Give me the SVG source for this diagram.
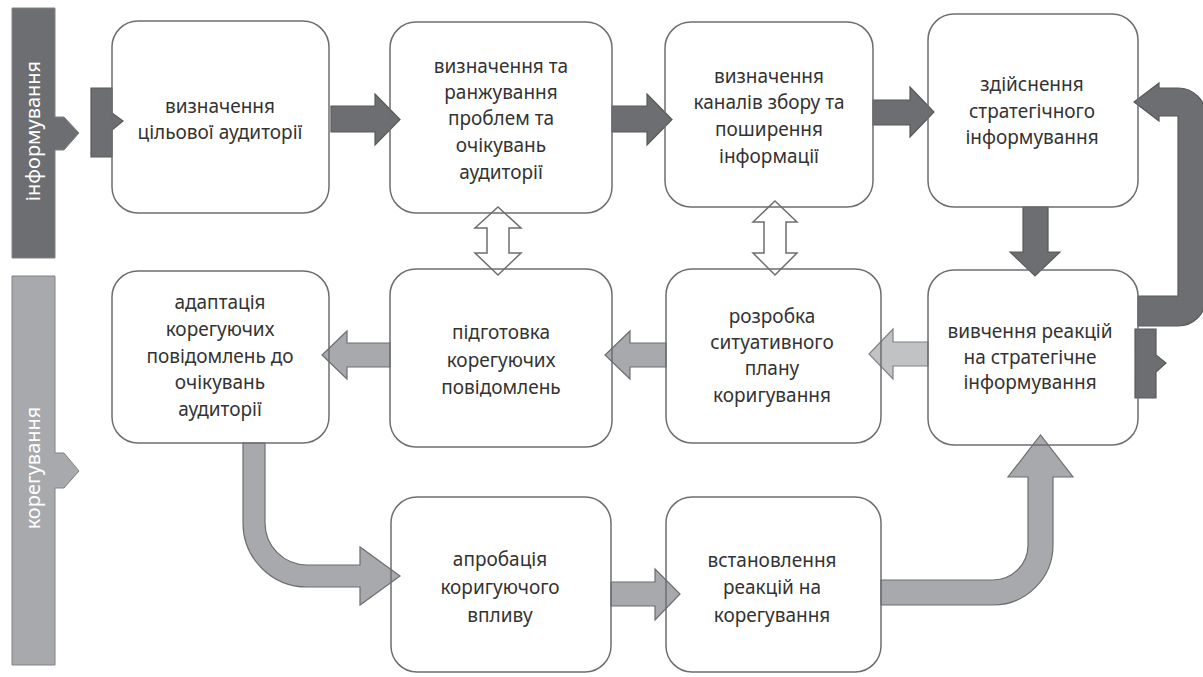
<svg xmlns="http://www.w3.org/2000/svg" width="1203" height="677" viewBox="0 0 1203 677">
<style>
.box{fill:none;stroke:#6d6e71;stroke-width:1.5}
.t{font-family:"Noto Sans","DejaVu Sans",sans-serif;font-size:19px;fill:#333333;text-anchor:middle}
.band{font-family:"Noto Sans","DejaVu Sans",sans-serif;font-size:20px;fill:#ffffff;text-anchor:middle}
.dark{fill:#6d6e71;stroke:#58595b;stroke-width:1.2}
.light{fill:#a7a9ac;stroke:#6d6e71;stroke-width:1.2}
.lighter{fill:#c1c2c4;stroke:#808285;stroke-width:1.2}
.dbl{fill:#ffffff;stroke:#6d6e71;stroke-width:1.5}
</style>
<rect width="1203" height="677" fill="#ffffff"/>
<g id="band-inform">
<path d="M12,8 H55 V117 H64 L79,133 L64,150 H55 V258 H12 Z" fill="#6d6e71" stroke="#808285" stroke-width="1"/>
<text class="band" transform="translate(40,131) rotate(-90)">інформування</text>
</g>
<g id="band-correct">
<path d="M12,276 H55 V453 H64 L79,471 L64,488 H55 V665 H12 Z" fill="#a7a9ac" stroke="#808285" stroke-width="1"/>
<text class="band" transform="translate(40,468) rotate(-90)">корегування</text>
</g>
<g id="connectors">
<path class="dark" d="M91,88 H112 V113 L123,121 L112,130 V157 H91 Z"/>
<path class="dark" d="M1135,329 H1156 V355 L1166,363 L1156,372 V398 H1135 Z"/>
<path class="dark" d="M331,106 H375 V94 L400,119.5 L375,145 V132 H331 Z"/>
<path class="dark" d="M612,106 H647 V94 L672,119.5 L647,145 V132 H612 Z"/>
<path class="dark" d="M873,100 H910 V87 L934,112 L910,137 V125 H873 Z"/>
<path class="dark" d="M1023,207 V252 H1010 L1035,276 L1060,252 H1048 V207 Z"/>
<path class="dark" d="M1138,296 H1178 V116 H1159 V121 L1134,102 L1159,83 V88 H1178 A28,28 0 0 1 1206,116 V298 A28,28 0 0 1 1178,326 H1138 Z"/>
<path class="lighter" d="M928,342 H893 V329 L869,354 L893,379 V366 H928 Z"/>
<path class="light" d="M666,343 H630 V331 L605,355 L630,379 V367 H666 Z"/>
<path class="light" d="M390,343 H347 V331 L322,355 L347,379 V367 H390 Z"/>
<path class="light" d="M243,443 V523 A64,64 0 0 0 307,587 H360 V605 L400,576 L360,547 V565 H307 A42,42 0 0 1 265,523 V443 Z"/>
<path class="light" d="M611,582 H655 V569 L680,594 L655,620 V606 H611 Z"/>
<path class="light" d="M881,580 H993 A35,35 0 0 0 1028,545 V477 H1008 L1040.5,435 L1073,477 H1053 V545 A60,60 0 0 1 993,605 H881 Z"/>
<path class="dbl" d="M498,207 L521,228 H509 V253 H521 L498,275 L475,253 H487 V228 H475 Z"/>
<path class="dbl" d="M775,201 L797,222 H786 V253 H797 L775,275 L753,253 H764 V222 H753 Z"/>
</g>
<g id="n1">
<rect class="box" x="112" y="21" width="217" height="192" rx="26"/>
<text class="t" x="220" y="113">визначення</text>
<text class="t" x="220" y="139">цільової аудиторії</text>
</g>
<g id="n2">
<rect class="box" x="390" y="22" width="222" height="191" rx="26"/>
<text class="t" x="501" y="73">визначення та</text>
<text class="t" x="501" y="99">ранжування</text>
<text class="t" x="501" y="125">проблем та</text>
<text class="t" x="501" y="152">очікувань</text>
<text class="t" x="501" y="179">аудиторії</text>
</g>
<g id="n3">
<rect class="box" x="665" y="22" width="208" height="185" rx="26"/>
<text class="t" x="769" y="83">визначення</text>
<text class="t" x="769" y="109">каналів збору та</text>
<text class="t" x="769" y="136">поширення</text>
<text class="t" x="769" y="163">інформації</text>
</g>
<g id="n4">
<rect class="box" x="928" y="14" width="210" height="193" rx="26"/>
<text class="t" x="1032" y="91">здійснення</text>
<text class="t" x="1032" y="118">стратегічного</text>
<text class="t" x="1032" y="144">інформування</text>
</g>
<g id="n5">
<rect class="box" x="112" y="271" width="217" height="172" rx="26"/>
<text class="t" x="220" y="309">адаптація</text>
<text class="t" x="220" y="336">корегуючих</text>
<text class="t" x="220" y="363">повідомлень до</text>
<text class="t" x="220" y="389">очікувань</text>
<text class="t" x="220" y="416">аудиторії</text>
</g>
<g id="n6">
<rect class="box" x="390" y="269" width="222" height="178" rx="26"/>
<text class="t" x="501" y="339">підготовка</text>
<text class="t" x="501" y="367">корегуючих</text>
<text class="t" x="501" y="394">повідомлень</text>
</g>
<g id="n7">
<rect class="box" x="666" y="269" width="215" height="174" rx="26"/>
<text class="t" x="772" y="323">розробка</text>
<text class="t" x="772" y="349">ситуативного</text>
<text class="t" x="772" y="375">плану</text>
<text class="t" x="772" y="402">коригування</text>
</g>
<g id="n8">
<rect class="box" x="928" y="270" width="210" height="175" rx="26"/>
<text class="t" x="1030" y="338">вивчення реакцій</text>
<text class="t" x="1030" y="364">на стратегічне</text>
<text class="t" x="1030" y="389">інформування</text>
</g>
<g id="n9">
<rect class="box" x="391" y="497" width="220" height="175" rx="26"/>
<text class="t" x="500" y="566">апробація</text>
<text class="t" x="500" y="594">коригуючого</text>
<text class="t" x="500" y="622">впливу</text>
</g>
<g id="n10">
<rect class="box" x="666" y="497" width="215" height="175" rx="26"/>
<text class="t" x="772" y="567">встановлення</text>
<text class="t" x="772" y="594">реакцій на</text>
<text class="t" x="772" y="622">корегування</text>
</g>
</svg>
